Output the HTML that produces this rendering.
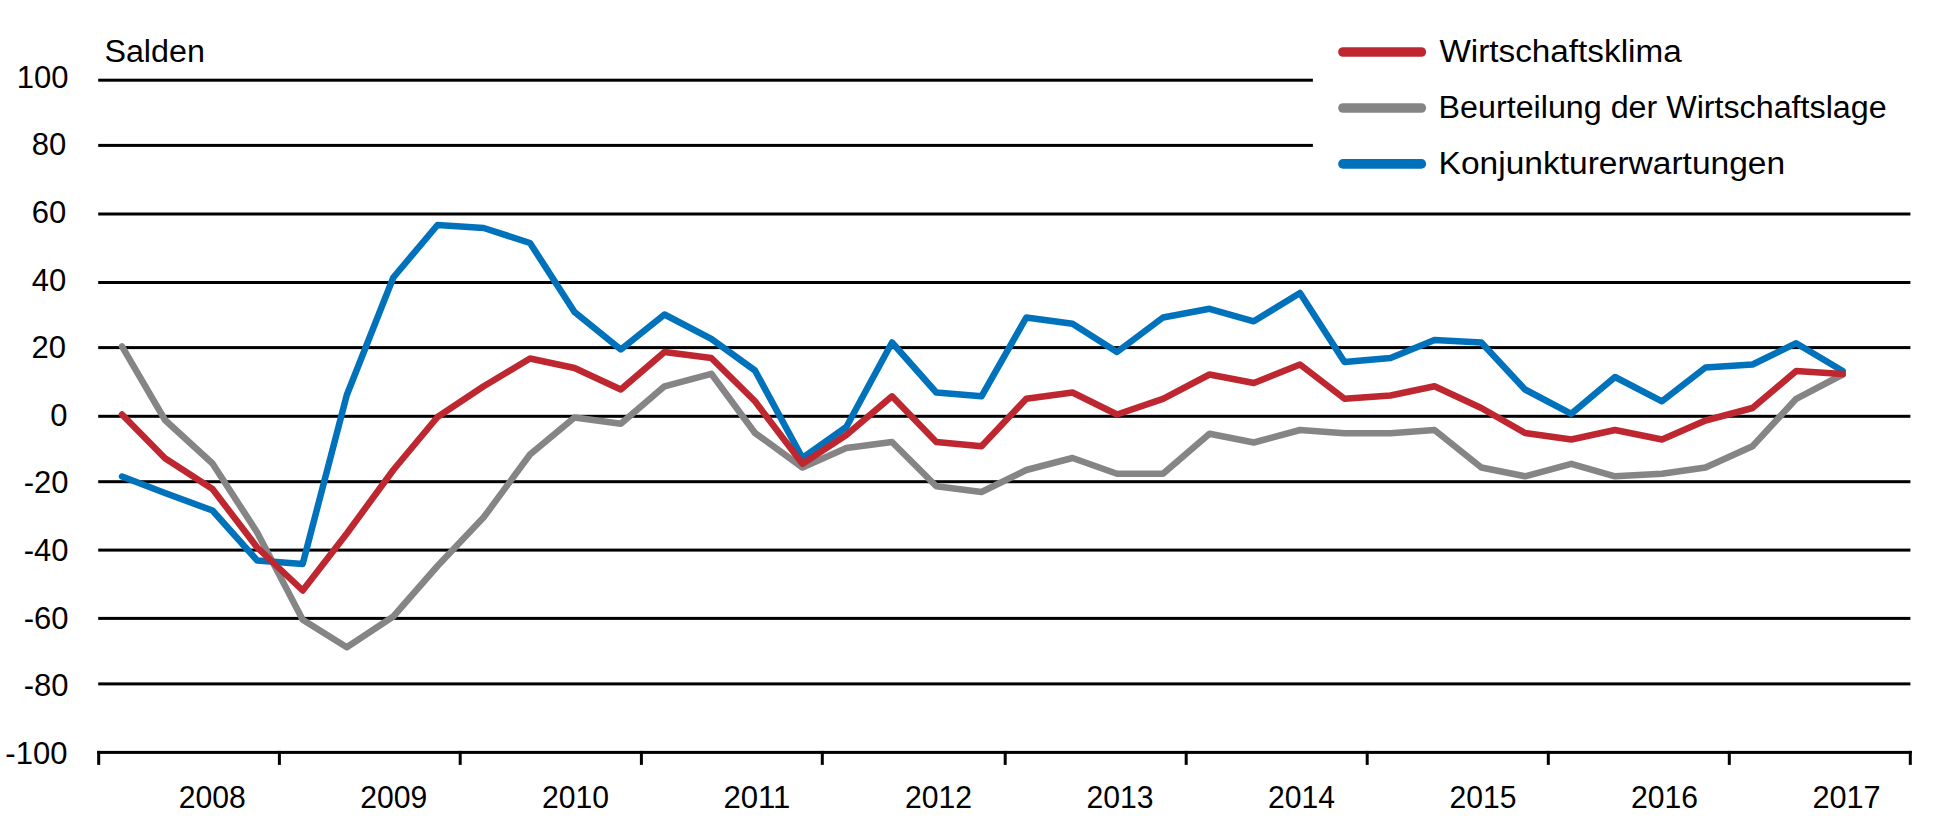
<!DOCTYPE html>
<html lang="de"><head><meta charset="utf-8"><title>Wirtschaftsklima</title>
<style>html,body{margin:0;padding:0;background:#fff;overflow:hidden}svg{display:block}text{font-family:'Liberation Sans', sans-serif;font-size:31px;fill:#000}</style></head><body>
<svg width="1947" height="824" viewBox="0 0 1947 824">
<rect width="1947" height="824" fill="#fff"/>
<g fill="#000">
<rect x="98.2" y="78.70" width="1214.7" height="3.0"/>
<rect x="98.2" y="143.90" width="1214.7" height="3.0"/>
<rect x="98.2" y="212.50" width="1812.2" height="3.0"/>
<rect x="98.2" y="281.00" width="1812.2" height="3.0"/>
<rect x="98.2" y="346.10" width="1812.2" height="3.0"/>
<rect x="98.2" y="414.80" width="1812.2" height="3.0"/>
<rect x="98.2" y="480.20" width="1812.2" height="3.0"/>
<rect x="98.2" y="548.60" width="1812.2" height="3.0"/>
<rect x="98.2" y="616.90" width="1812.2" height="3.0"/>
<rect x="98.2" y="682.40" width="1812.2" height="3.0"/>
<rect x="97.2" y="750.90" width="1814.6" height="3.0"/>
<rect x="97.20" y="750.90" width="3" height="14.00"/>
<rect x="277.90" y="750.90" width="3" height="14.00"/>
<rect x="458.70" y="750.90" width="3" height="14.00"/>
<rect x="639.90" y="750.90" width="3" height="14.00"/>
<rect x="820.80" y="750.90" width="3" height="14.00"/>
<rect x="1003.70" y="750.90" width="3" height="14.00"/>
<rect x="1184.70" y="750.90" width="3" height="14.00"/>
<rect x="1365.70" y="750.90" width="3" height="14.00"/>
<rect x="1546.80" y="750.90" width="3" height="14.00"/>
<rect x="1727.80" y="750.90" width="3" height="14.00"/>
<rect x="1908.80" y="750.90" width="3" height="14.00"/>
</g>
<polyline fill="none" stroke="#858585" stroke-width="6.5" stroke-linecap="round" stroke-linejoin="round" points="122.0,346.3 165.0,420.0 212.5,463.5 257.2,532.4 302.7,619.8 346.8,647.2 393.3,616.5 437.5,566.0 483.7,517.3 530.0,454.5 574.5,417.5 620.8,423.8 664.5,386.3 711.3,373.8 755.0,433.0 802.5,467.5 846.3,448.0 892.0,442.0 936.3,486.3 981.5,492.0 1026.3,470.0 1072.5,458.0 1117.0,473.8 1163.0,473.8 1209.5,433.8 1253.8,442.5 1300.0,430.0 1344.5,433.3 1390.5,433.3 1434.5,430.0 1481.3,467.5 1525.0,476.3 1571.3,463.8 1615.0,476.3 1662.0,473.8 1705.5,467.5 1752.5,446.3 1796.2,398.8 1842.7,374.5"/>
<polyline fill="none" stroke="#0072BC" stroke-width="6.5" stroke-linecap="round" stroke-linejoin="round" points="122.0,476.5 165.0,493.0 212.5,510.5 257.2,560.5 302.7,563.9 346.8,395.0 393.3,277.5 437.5,225.0 483.7,228.0 530.0,243.0 574.5,312.0 620.8,349.5 664.5,314.5 711.3,338.8 755.0,370.5 802.5,458.0 846.3,427.0 892.0,342.5 936.3,392.5 981.5,396.3 1026.3,317.5 1072.5,323.8 1117.0,352.0 1163.0,317.5 1209.5,308.8 1253.8,321.3 1300.0,293.0 1344.5,362.0 1390.5,358.0 1434.5,340.0 1481.3,342.5 1525.0,389.5 1571.3,413.8 1615.0,377.0 1662.0,401.3 1705.5,367.5 1752.5,364.5 1796.2,343.2 1842.7,371.0"/>
<polyline fill="none" stroke="#BE2730" stroke-width="6.5" stroke-linecap="round" stroke-linejoin="round" points="122.0,414.5 165.0,458.3 212.5,489.0 257.2,547.5 302.7,590.5 346.8,533.5 393.3,470.0 437.5,417.0 483.7,386.3 530.0,358.5 574.5,368.0 620.8,389.5 664.5,352.0 711.3,358.0 755.0,401.3 802.5,463.8 846.3,435.0 892.0,396.3 936.3,442.0 981.5,446.3 1026.3,398.8 1072.5,392.5 1117.0,414.5 1163.0,398.8 1209.5,374.5 1253.8,383.0 1300.0,364.5 1344.5,398.8 1390.5,395.5 1434.5,386.3 1481.3,408.0 1525.0,433.0 1571.3,439.5 1615.0,430.0 1662.0,439.5 1705.5,420.5 1752.5,408.0 1796.2,371.0 1842.7,374.0"/>
<line x1="1343" y1="52" x2="1421.3" y2="52" stroke="#BE2730" stroke-width="9.7" stroke-linecap="round"/>
<line x1="1343" y1="108" x2="1421.3" y2="108" stroke="#858585" stroke-width="9.7" stroke-linecap="round"/>
<line x1="1343" y1="163.9" x2="1421.3" y2="163.9" stroke="#0072BC" stroke-width="9.7" stroke-linecap="round"/>
<text x="1439.4" y="61.6" textLength="242.3" lengthAdjust="spacingAndGlyphs">Wirtschaftsklima</text>
<text x="1438.6" y="117.8" textLength="448.0" lengthAdjust="spacingAndGlyphs">Beurteilung der Wirtschaftslage</text>
<text x="1438.6" y="173.9" textLength="346.5" lengthAdjust="spacingAndGlyphs">Konjunkturerwartungen</text>
<text x="104.4" y="62" textLength="100.5" lengthAdjust="spacingAndGlyphs">Salden</text>
<text x="68.6" y="87.6" text-anchor="end">100</text>
<text x="66.3" y="155.2" text-anchor="end">80</text>
<text x="66.3" y="222.9" text-anchor="end">60</text>
<text x="66.3" y="290.5" text-anchor="end">40</text>
<text x="66.0" y="358.1" text-anchor="end">20</text>
<text x="67.5" y="425.8" text-anchor="end">0</text>
<text x="68.5" y="493.4" text-anchor="end">-20</text>
<text x="68.5" y="561.0" text-anchor="end">-40</text>
<text x="68.5" y="628.6" text-anchor="end">-60</text>
<text x="68.5" y="696.3" text-anchor="end">-80</text>
<text x="67.4" y="763.9" text-anchor="end">-100</text>
<text x="178.8" y="808.3" textLength="67" lengthAdjust="spacingAndGlyphs">2008</text>
<text x="360.3" y="808.3" textLength="67" lengthAdjust="spacingAndGlyphs">2009</text>
<text x="541.9" y="808.3" textLength="67" lengthAdjust="spacingAndGlyphs">2010</text>
<text x="723.4" y="808.3" textLength="67" lengthAdjust="spacingAndGlyphs">2011</text>
<text x="904.9" y="808.3" textLength="67" lengthAdjust="spacingAndGlyphs">2012</text>
<text x="1086.5" y="808.3" textLength="67" lengthAdjust="spacingAndGlyphs">2013</text>
<text x="1268.0" y="808.3" textLength="67" lengthAdjust="spacingAndGlyphs">2014</text>
<text x="1449.5" y="808.3" textLength="67" lengthAdjust="spacingAndGlyphs">2015</text>
<text x="1631.0" y="808.3" textLength="67" lengthAdjust="spacingAndGlyphs">2016</text>
<text x="1812.4" y="808.3" textLength="68.2" lengthAdjust="spacingAndGlyphs">2017</text>
</svg></body></html>
